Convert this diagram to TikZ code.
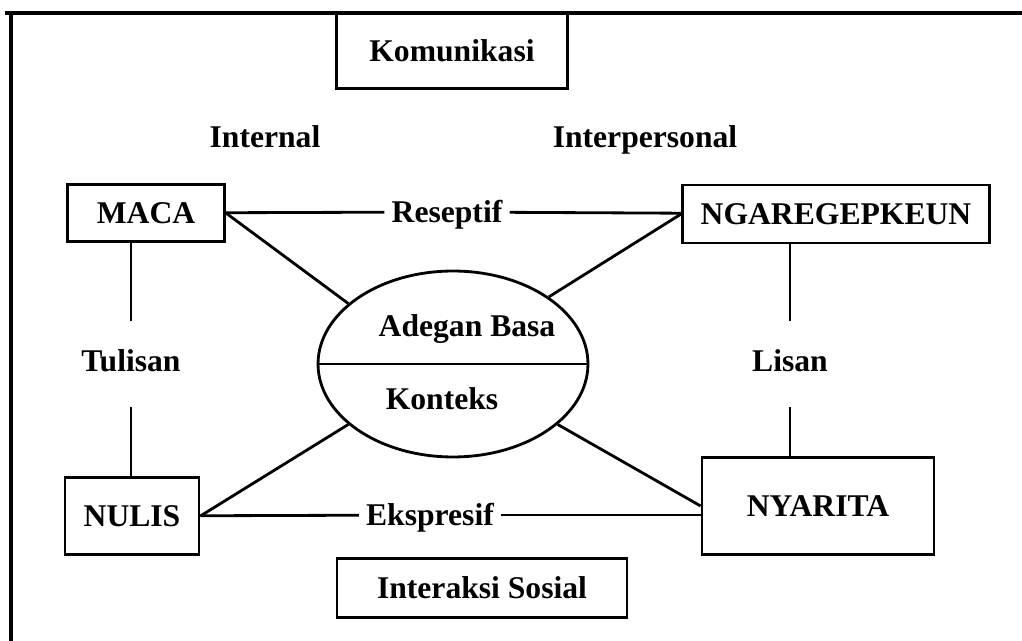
\documentclass[tikz,border=0pt]{standalone}
\usepackage{fontspec}
\setmainfont{Liberation Serif}
\usepackage{tikz}
\usetikzlibrary{shapes.geometric, positioning, calc}

\begin{document}
\begin{tikzpicture}[
    x=0.02cm, y=-0.02cm,
    box/.style={rectangle, draw, line width=1.6pt, inner sep=0pt, text height=12.5pt, text depth=0pt, font=\fontsize{18}{21}\selectfont\bfseries},
    txt/.style={inner sep=2pt, text height=12.5pt, text depth=3.5pt, font=\fontsize{18}{21}\selectfont\bfseries},
    mid/.style={txt, inner xsep=4pt, text depth=0pt},
    side/.style={txt, minimum height=1.7cm},
    relation/.style={line width=1.6pt},
    frame/.style={line width=2.2pt}
]
\useasboundingbox (0,0) rectangle (1022,641);

% Frame
\draw[frame] (5,13) -- (1022,13);
\draw[frame] (11,13) -- (11,641);

% Boxes
\node[box, minimum width=4.62cm, minimum height=1.5cm] (komunikasi) at (452,51) {Komunikasi};
\node[box, minimum width=3.14cm, minimum height=1.14cm] (maca) at (146,213) {MACA};
\node[box, minimum width=6.14cm, minimum height=1.16cm] (ngaregepkeun) at (836,214) {NGAREGEPKEUN};
\node[box, minimum width=2.68cm, minimum height=1.54cm] (nulis) at (132,516) {NULIS};
\node[box, minimum width=4.64cm, minimum height=1.94cm] (nyarita) at (818,506) {NYARITA};
\node[box, minimum width=5.8cm, minimum height=1.18cm] (sosial) at (482,588) {Interaksi Sosial};

% Centre
\node[ellipse, draw, line width=1.6pt, inner sep=0pt, minimum width=5.4cm, minimum height=3.72cm] (adegan) at (453,364) {};
\draw[relation] (adegan.west) -- (adegan.east);
\node[txt] (basa) at (467,329) {Adegan Basa};
\node[txt] (konteks) at (442,402) {Konteks};

% Labels
\node[txt] (internal) at (265,140) {Internal};
\node[txt] (interpersonal) at (645,140) {Interpersonal};
\node[mid] (reseptif) at (447,212) {Reseptif};
\node[mid] (ekspresif) at (430,515) {Ekspresif};
\node[side] (tulisan) at (131,364) {Tulisan};
\node[side] (lisan) at (790,364) {Lisan};

% Relations
\draw[relation] (maca) -- (reseptif);
\draw[relation] (reseptif) -- (ngaregepkeun);
\draw[relation] (nulis) -- (ekspresif);
\draw[relation] (ekspresif) -- (ekspresif -| nyarita.west);
\draw[relation] (tulisan) -- (tulisan |- maca.south);
\draw[relation] (tulisan) -- (tulisan |- nulis.north);
\draw[relation] (lisan) -- (lisan |- ngaregepkeun.south);
\draw[relation] (lisan) -- (lisan |- nyarita.north);
\draw[relation] (maca.east) -- (adegan.150);
\draw[relation] (ngaregepkeun.west) -- (adegan.35);
\draw[relation] (nulis.east) -- (adegan.210);
\draw[relation] (nyarita.west) -- (adegan.330);

\end{tikzpicture}
\end{document}
